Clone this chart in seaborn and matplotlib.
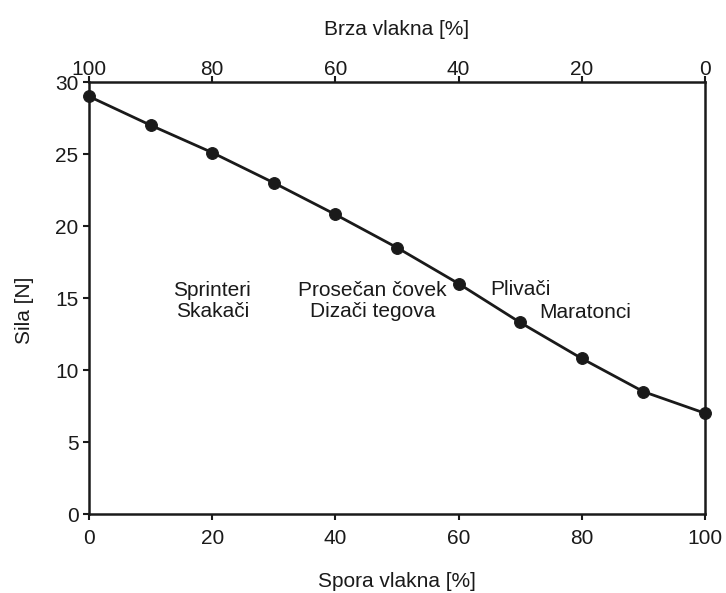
import matplotlib
matplotlib.use("Agg")
import matplotlib.pyplot as plt
import seaborn as sns
import pandas as pd

# Muscle fibre composition vs. force
slow_fibres = [0, 10, 20, 30, 40, 50, 60, 70, 80, 90, 100]
force = [29.0, 27.0, 25.1, 23.0, 20.8, 18.5, 16.0, 13.3, 10.8, 8.5, 7.0]
x_ticks = [0, 20, 40, 60, 80, 100]
y_ticks = [0, 5, 10, 15, 20, 25, 30]

groups = ["Sprinteri\nSkakači", "Prosečan čovek\nDizači tegova", "Plivači", "Maratonci"]
group_x = [20, 46, 70, 80.5]
group_y = [14.8, 14.8, 15.6, 14.0]

sns.set_theme(style="white")
plt.rcParams["font.family"] = ["Liberation Sans", "DejaVu Sans"]
ink = "#1a1a1a"
fs = 15

df = pd.DataFrame({"spora": slow_fibres, "sila": force})

fig = plt.figure(figsize=(7.26, 5.93), dpi=100)
ax = fig.add_axes([0.1226, 0.1332, 0.8484, 0.7285])

sns.lineplot(data=df, x="spora", y="sila", ax=ax, color=ink, linewidth=2,
             marker="o", markersize=8.5, markeredgecolor=ink, markerfacecolor=ink,
             clip_on=False, zorder=5)

ax.set_xlim(0, 100)
ax.set_ylim(0, 30)
ax.set_xticks(x_ticks)
ax.set_yticks(y_ticks)
ax.set_xlabel("Spora vlakna [%]", fontsize=fs, color=ink, labelpad=17)
ax.set_ylabel("Sila [N]", fontsize=fs, color=ink, labelpad=15)
ax.yaxis.label.set_y(0.472)

for s in ax.spines.values():
    s.set_color(ink)
    s.set_linewidth(1.8)

ax.tick_params(axis="both", which="both", direction="out", length=4, width=1.5,
               color=ink, labelsize=fs, labelcolor=ink)
ax.tick_params(axis="x", pad=7)
ax.tick_params(axis="y", pad=3.5)
ax.tick_params(left=True, bottom=True)

top = ax.secondary_xaxis("top", functions=(lambda v: 100 - v, lambda v: 100 - v))
top.set_xticks(x_ticks)
top.tick_params(direction="out", length=4, width=1.5, color=ink, labelsize=fs,
                labelcolor=ink, pad=-2)
top.spines["top"].set_visible(False)
top.set_xlabel("Brza vlakna [%]", fontsize=fs, color=ink, labelpad=18.5)

for label, gx, gy in zip(groups, group_x, group_y):
    ax.text(gx, gy, label, ha="center", va="center", fontsize=fs, color=ink,
            linespacing=1.15)

fig.savefig("out.png", dpi=100)
